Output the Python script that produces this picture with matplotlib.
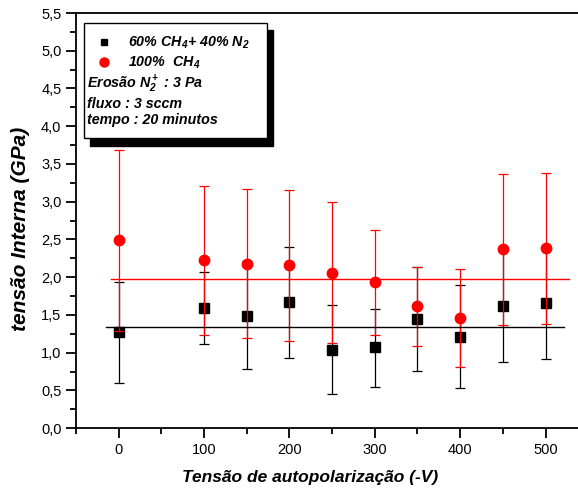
import numpy as np
import matplotlib.pyplot as plt
from matplotlib.patches import Rectangle
from matplotlib.ticker import MultipleLocator, FuncFormatter

plt.rcParams['font.family'] = ['Liberation Sans', 'DejaVu Sans']
plt.rcParams['mathtext.default'] = 'regular'

tensao = np.array([0, 100, 150, 200, 250, 300, 350, 400, 450, 500])

# 60% CH4 + 40% N2
mist = np.array([1.27, 1.59, 1.49, 1.67, 1.04, 1.07, 1.45, 1.21, 1.62, 1.66])
mist_sup = np.array([1.93, 2.07, 2.21, 2.40, 1.63, 1.58, 2.13, 1.89, 2.37, 2.40])
mist_inf = np.array([0.60, 1.12, 0.78, 0.93, 0.45, 0.55, 0.76, 0.53, 0.87, 0.91])
mist_media = 1.34

# 100% CH4
ch4 = np.array([2.49, 2.23, 2.17, 2.16, 2.06, 1.94, 1.62, 1.46, 2.38, 2.39])
ch4_sup = np.array([3.68, 3.21, 3.17, 3.15, 2.99, 2.63, 2.13, 2.11, 3.37, 3.38])
ch4_inf = np.array([1.29, 1.23, 1.19, 1.16, 1.13, 1.23, 1.09, 0.81, 1.37, 1.38])
ch4_media = 1.98

fig = plt.figure(figsize=(5.78, 4.91), dpi=100)
ax = fig.add_axes([0.1315, 0.128, 0.8685, 0.8455])

ax.errorbar(tensao, mist, yerr=[mist - mist_inf, mist_sup - mist], fmt='s', color='black',
            ms=6.5, elinewidth=0.9, capsize=3.5, capthick=0.9, zorder=3)
ax.errorbar(tensao, ch4, yerr=[ch4 - ch4_inf, ch4_sup - ch4], fmt='o', color='red',
            ms=7.5, elinewidth=0.9, capsize=3.5, capthick=0.9, zorder=4)
ax.plot([-15, 522], [mist_media, mist_media], color='black', lw=1, zorder=5)
ax.plot([-9, 527], [ch4_media, ch4_media], color='red', lw=1, zorder=5)

ax.set_xlim(-50, 538)
ax.set_ylim(0, 5.5)
ax.xaxis.set_major_locator(MultipleLocator(100))
ax.xaxis.set_minor_locator(MultipleLocator(50))
ax.yaxis.set_major_locator(MultipleLocator(0.5))
ax.yaxis.set_minor_locator(MultipleLocator(0.25))
ax.yaxis.set_major_formatter(FuncFormatter(lambda v, p: f'{v:.1f}'.replace('.', ',')))
ax.spines['right'].set_visible(False)
for s in ['left', 'bottom', 'top']:
    ax.spines[s].set_linewidth(1.3)
ax.tick_params(which='both', direction='out', width=1.3, labelsize=10.5, top=False)
ax.tick_params(which='major', length=7)
ax.tick_params(which='minor', length=4)

ax.set_xlabel('Tensão de autopolarização (-V)', fontsize=12.5, fontweight='bold',
              fontstyle='italic')
ax.set_ylabel('tensão Interna (GPa)', fontsize=15, fontweight='bold',
              fontstyle='italic')
ax.xaxis.set_label_coords(0.466, -0.101)
ax.yaxis.set_label_coords(-0.092, 0.48)

# caixa da legenda com sombra
tr = ax.transAxes
ax.add_patch(Rectangle((0.028, 0.680), 0.364, 0.279, transform=tr, facecolor='black',
                       edgecolor='black', zorder=9, clip_on=False))
ax.add_patch(Rectangle((0.016, 0.699), 0.364, 0.277, transform=tr, facecolor='white',
                       edgecolor='black', lw=1, zorder=10, clip_on=False))
kw = dict(transform=tr, fontsize=10.3, fontweight='bold', fontstyle='italic',
          va='center', zorder=11)
ax.plot([0.056], [0.930], 's', color='black', ms=5, transform=tr, zorder=11, clip_on=False)
ax.plot([0.056], [0.882], 'o', color='red', ms=6.5, transform=tr, zorder=11, clip_on=False)
ax.text(0.103, 0.928, '60% CH$_4$+ 40% N$_2$', **kw)
ax.text(0.103, 0.880, '100%  CH$_4$', **kw)
ax.text(0.022, 0.828, 'Erosão N$_2^+$ : 3 Pa', **kw)
ax.text(0.022, 0.781, 'fluxo : 3 sccm', **kw)
ax.text(0.022, 0.742, 'tempo : 20 minutos', **kw)

plt.savefig('out.png', dpi=100)
